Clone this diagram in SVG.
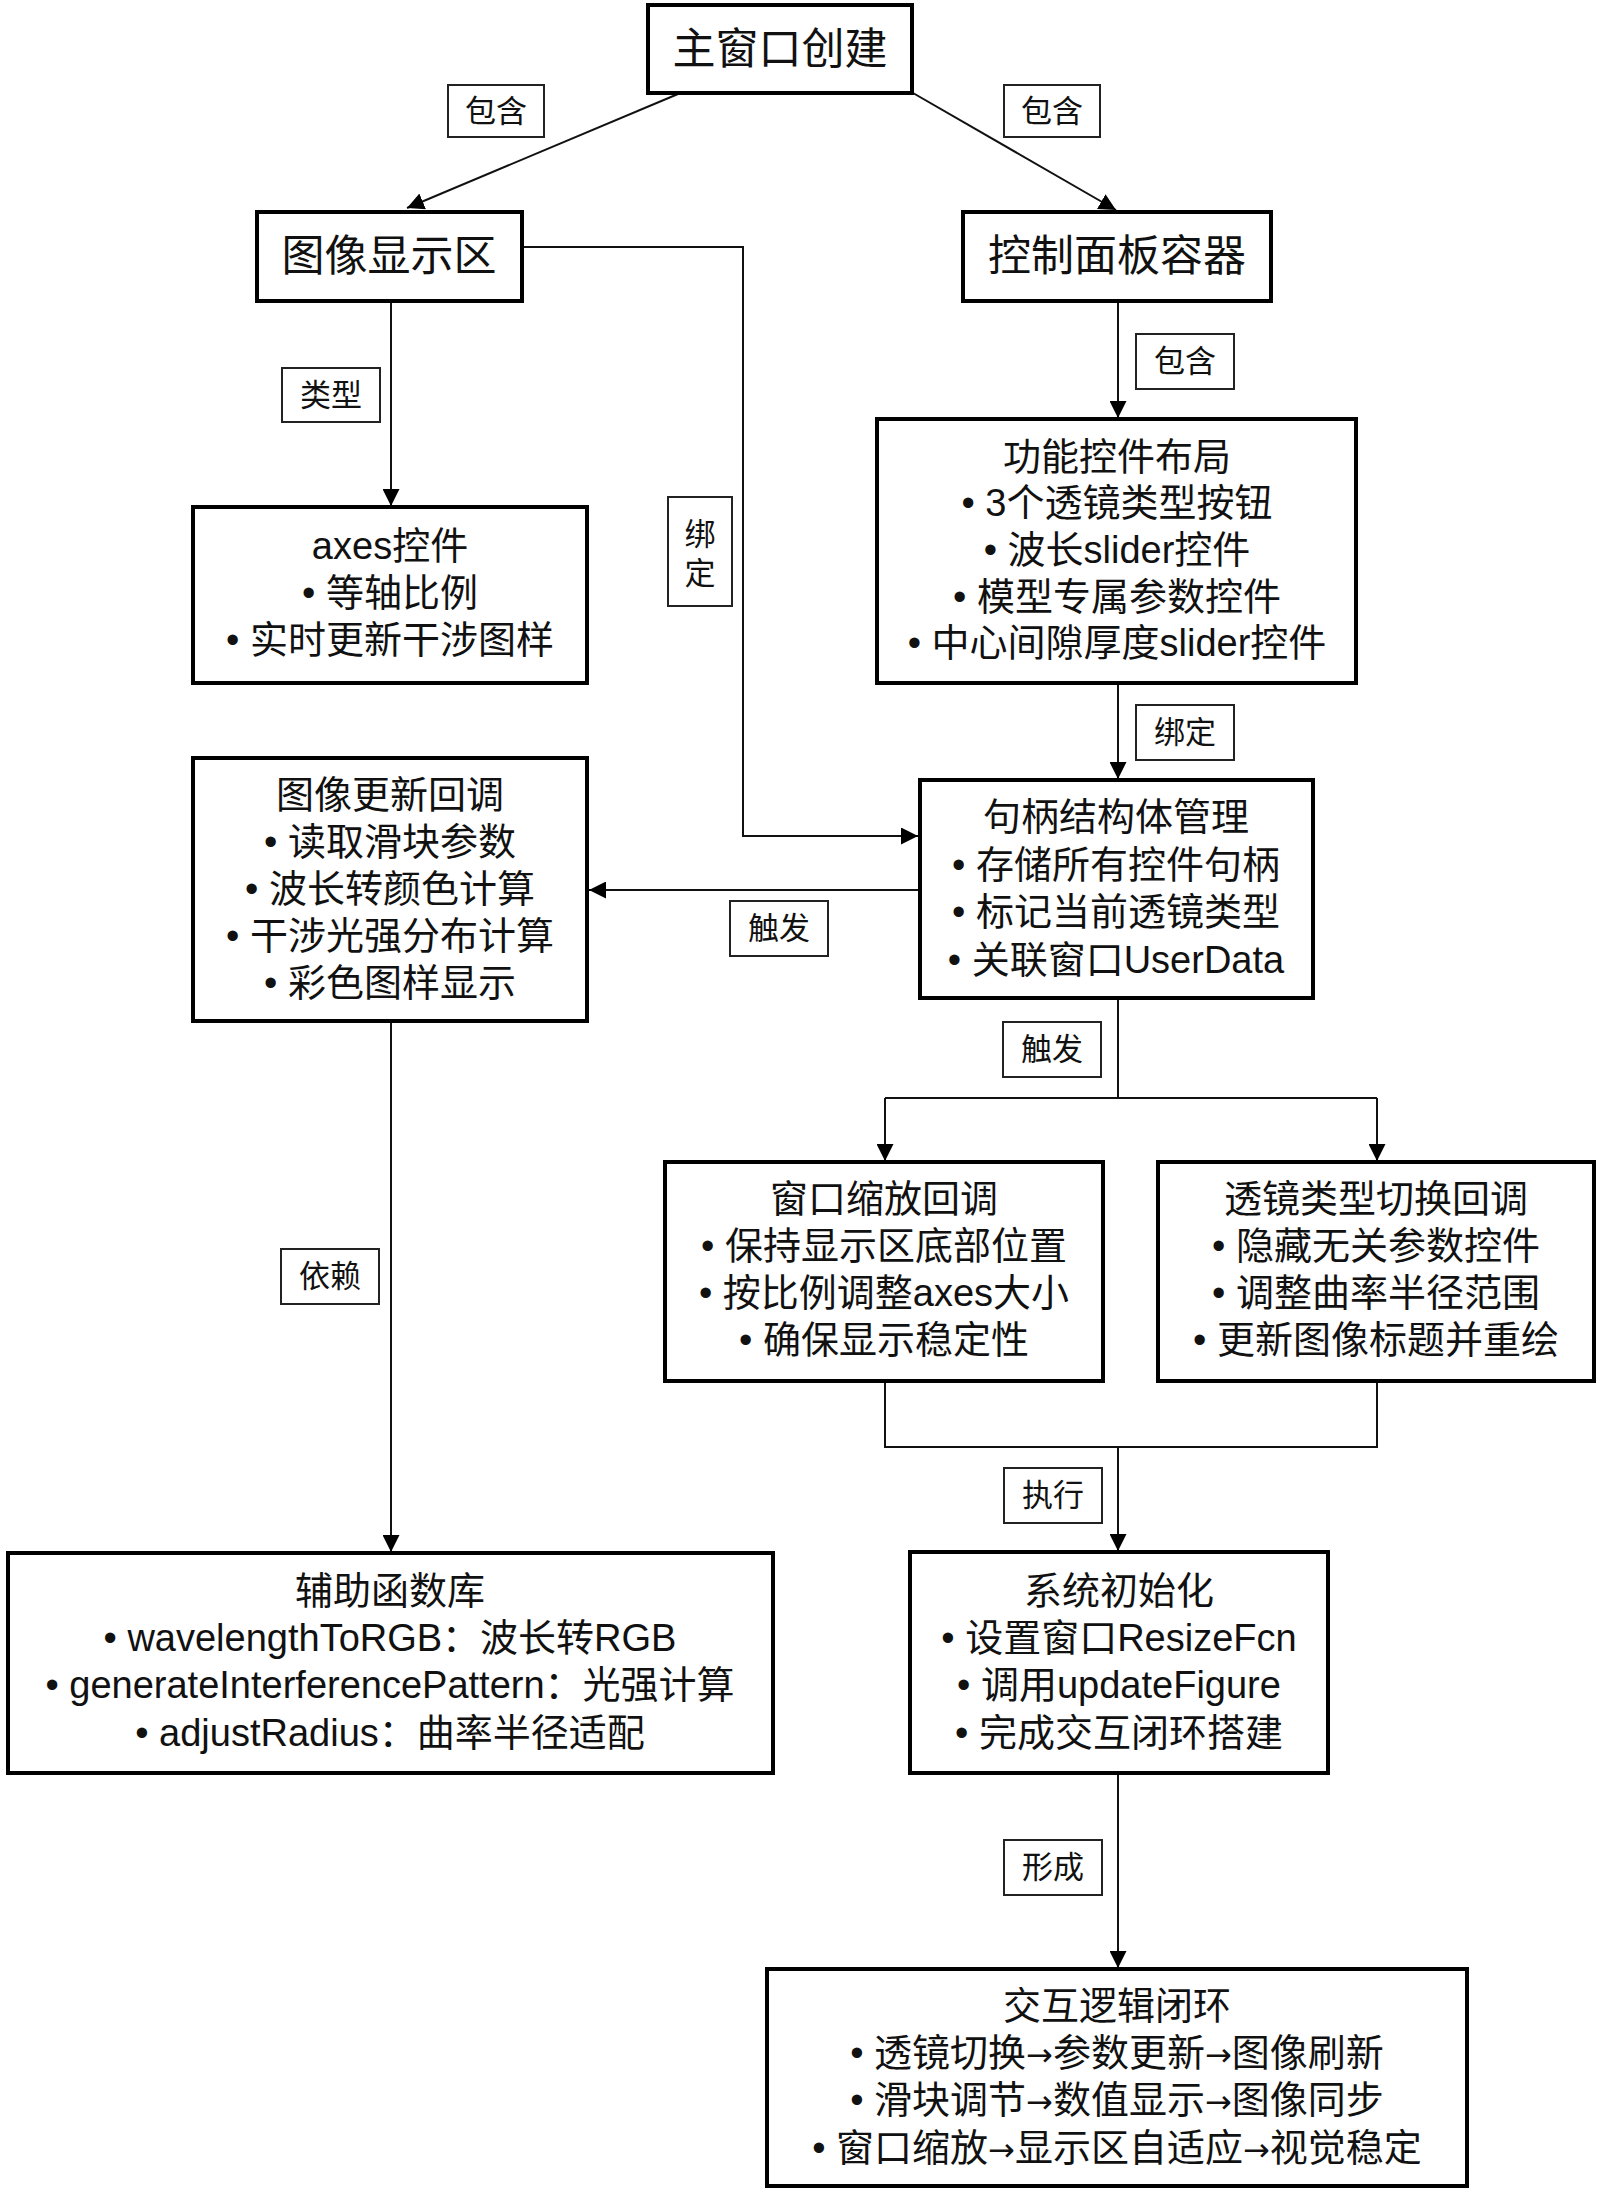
<svg xmlns="http://www.w3.org/2000/svg" width="1600" height="2193" viewBox="0 0 1600 2193">
<style>
.node{fill:#fff;stroke:#000;stroke-width:4}
.lbl{fill:#fff;stroke:#222;stroke-width:2}
.t{font-family:"Liberation Sans","Noto Sans CJK SC",sans-serif;fill:#111;text-anchor:middle}
.big{font-size:43px}
.body{font-size:38px}
.lt{font-size:31px}
.ar{font-family:"DejaVu Sans",sans-serif;font-size:32px}
.c{fill:none;stroke:#111;stroke-width:2}
</style>
<defs>
<marker id="ah" markerUnits="userSpaceOnUse" markerWidth="17" markerHeight="17" refX="17" refY="8.5" orient="auto">
<path d="M0,0 L17,8.5 L0,17 z" fill="#000"/>
</marker>
</defs>
<rect width="1600" height="2193" fill="#fff"/>
<g id="connectors">
<line class="c" x1="678" y1="94" x2="407" y2="208" marker-end="url(#ah)"/>
<line class="c" x1="913" y1="93" x2="1116" y2="210" marker-end="url(#ah)"/>
<line class="c" x1="391" y1="301" x2="391" y2="506" marker-end="url(#ah)"/>
<polyline class="c" points="522,247 743,247 743,836 918,836" marker-end="url(#ah)"/>
<line class="c" x1="1118" y1="301" x2="1118" y2="418" marker-end="url(#ah)"/>
<line class="c" x1="1118" y1="683" x2="1118" y2="779" marker-end="url(#ah)"/>
<line class="c" x1="920" y1="890" x2="589" y2="890" marker-end="url(#ah)"/>
<line class="c" x1="391" y1="1021" x2="391" y2="1552" marker-end="url(#ah)"/>
<line class="c" x1="1118" y1="998" x2="1118" y2="1098"/>
<line class="c" x1="885" y1="1098" x2="1377" y2="1098"/>
<line class="c" x1="885" y1="1098" x2="885" y2="1161" marker-end="url(#ah)"/>
<line class="c" x1="1377" y1="1098" x2="1377" y2="1161" marker-end="url(#ah)"/>
<polyline class="c" points="885,1381 885,1447 1377,1447 1377,1381"/>
<line class="c" x1="1118" y1="1447" x2="1118" y2="1551" marker-end="url(#ah)"/>
<line class="c" x1="1118" y1="1773" x2="1118" y2="1968" marker-end="url(#ah)"/>
</g>
<g id="labels">
<g id="lbl-baohan-l"><rect class="lbl" x="448" y="85" width="96" height="52"/><text class="t lt" x="496" y="122">包含</text></g>
<g id="lbl-baohan-r"><rect class="lbl" x="1004" y="85" width="96" height="52"/><text class="t lt" x="1052" y="122">包含</text></g>
<g id="lbl-leixing"><rect class="lbl" x="282" y="368" width="98" height="54"/><text class="t lt" x="331" y="406">类型</text></g>
<g id="lbl-baohan-c"><rect class="lbl" x="1136" y="334" width="98" height="55"/><text class="t lt" x="1185" y="372">包含</text></g>
<g id="lbl-bangding-v"><rect class="lbl" x="668" y="497" width="64" height="109"/><text class="t lt" x="700" y="545">绑</text><text class="t lt" x="700" y="584">定</text></g>
<g id="lbl-bangding"><rect class="lbl" x="1136" y="705" width="98" height="55"/><text class="t lt" x="1185" y="743">绑定</text></g>
<g id="lbl-chufa-l"><rect class="lbl" x="730" y="901" width="98" height="55"/><text class="t lt" x="779" y="939">触发</text></g>
<g id="lbl-chufa-d"><rect class="lbl" x="1003" y="1022" width="98" height="55"/><text class="t lt" x="1052" y="1060">触发</text></g>
<g id="lbl-yilai"><rect class="lbl" x="281" y="1249" width="98" height="55"/><text class="t lt" x="330" y="1287">依赖</text></g>
<g id="lbl-zhixing"><rect class="lbl" x="1004" y="1468" width="98" height="55"/><text class="t lt" x="1053" y="1506">执行</text></g>
<g id="lbl-xingcheng"><rect class="lbl" x="1004" y="1840" width="98" height="55"/><text class="t lt" x="1053" y="1878">形成</text></g>
</g>
<g id="n-main"><rect class="node" x="648" y="5" width="264" height="88"/><text class="t big" x="780" y="64">主窗口创建</text></g>
<g id="n-display"><rect class="node" x="257" y="212" width="265" height="89"/><text class="t big" x="389" y="271">图像显示区</text></g>
<g id="n-ctrl"><rect class="node" x="963" y="212" width="308" height="89"/><text class="t big" x="1117" y="271">控制面板容器</text></g>
<g id="n-axes"><rect class="node" x="193" y="507" width="394" height="176"/>
<text class="t body" x="390" y="559">axes控件</text>
<text class="t body" x="390" y="606">• 等轴比例</text>
<text class="t body" x="390" y="653">• 实时更新干涉图样</text></g>
<g id="n-func"><rect class="node" x="877" y="419" width="479" height="264"/>
<text class="t body" x="1117" y="470">功能控件布局</text>
<text class="t body" x="1117" y="516">• 3个透镜类型按钮</text>
<text class="t body" x="1117" y="563">• 波长slider控件</text>
<text class="t body" x="1117" y="610">• 模型专属参数控件</text>
<text class="t body" x="1117" y="656">• 中心间隙厚度slider控件</text></g>
<g id="n-handle"><rect class="node" x="920" y="780" width="393" height="218"/>
<text class="t body" x="1116" y="830">句柄结构体管理</text>
<text class="t body" x="1116" y="878">• 存储所有控件句柄</text>
<text class="t body" x="1116" y="925">• 标记当前透镜类型</text>
<text class="t body" x="1116" y="973">• 关联窗口UserData</text></g>
<g id="n-imgupd"><rect class="node" x="193" y="758" width="394" height="263"/>
<text class="t body" x="390" y="808">图像更新回调</text>
<text class="t body" x="390" y="855">• 读取滑块参数</text>
<text class="t body" x="390" y="902">• 波长转颜色计算</text>
<text class="t body" x="390" y="949">• 干涉光强分布计算</text>
<text class="t body" x="390" y="996">• 彩色图样显示</text></g>
<g id="n-resize"><rect class="node" x="665" y="1162" width="438" height="219"/>
<text class="t body" x="884" y="1212">窗口缩放回调</text>
<text class="t body" x="884" y="1259">• 保持显示区底部位置</text>
<text class="t body" x="884" y="1306">• 按比例调整axes大小</text>
<text class="t body" x="884" y="1353">• 确保显示稳定性</text></g>
<g id="n-lens"><rect class="node" x="1158" y="1162" width="436" height="219"/>
<text class="t body" x="1376" y="1212">透镜类型切换回调</text>
<text class="t body" x="1376" y="1259">• 隐藏无关参数控件</text>
<text class="t body" x="1376" y="1306">• 调整曲率半径范围</text>
<text class="t body" x="1376" y="1353">• 更新图像标题并重绘</text></g>
<g id="n-helper"><rect class="node" x="8" y="1553" width="765" height="220"/>
<text class="t body" x="390" y="1604">辅助函数库</text>
<text class="t body" x="390" y="1651">• wavelengthToRGB：波长转RGB</text>
<text class="t body" x="390" y="1698">• generateInterferencePattern：光强计算</text>
<text class="t body" x="390" y="1746">• adjustRadius：曲率半径适配</text></g>
<g id="n-sysinit"><rect class="node" x="910" y="1552" width="418" height="221"/>
<text class="t body" x="1119" y="1604">系统初始化</text>
<text class="t body" x="1119" y="1651">• 设置窗口ResizeFcn</text>
<text class="t body" x="1119" y="1698">• 调用updateFigure</text>
<text class="t body" x="1119" y="1746">• 完成交互闭环搭建</text></g>
<g id="n-loop"><rect class="node" x="767" y="1969" width="700" height="217"/>
<text class="t body" x="1117" y="2019">交互逻辑闭环</text>
<text class="t body" x="1117" y="2066">• 透镜切换<tspan class="ar">→</tspan>参数更新<tspan class="ar">→</tspan>图像刷新</text>
<text class="t body" x="1117" y="2113">• 滑块调节<tspan class="ar">→</tspan>数值显示<tspan class="ar">→</tspan>图像同步</text>
<text class="t body" x="1117" y="2161">• 窗口缩放<tspan class="ar">→</tspan>显示区自适应<tspan class="ar">→</tspan>视觉稳定</text></g>
</svg>
